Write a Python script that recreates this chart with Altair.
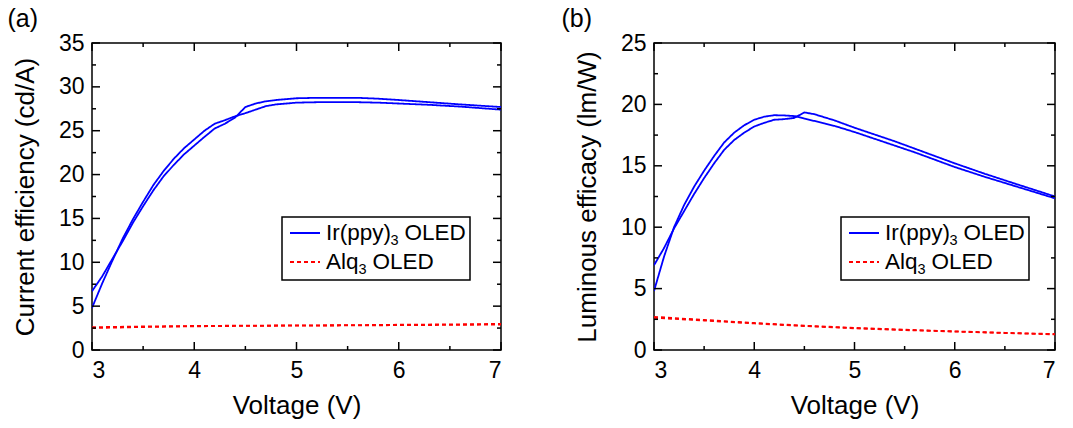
import altair as alt
import pandas as pd

FONT = "Liberation Sans"

# Voltage grid for the Ir(ppy)3 devices (V)
volt_ir = [3.0, 3.1, 3.2, 3.3, 3.4, 3.5, 3.6, 3.7, 3.8, 3.9, 4.0, 4.1, 4.2, 4.3,
           4.4, 4.5, 4.6, 4.7, 4.8, 5.0, 5.2, 5.4, 5.6, 5.8, 6.0, 6.3, 6.6, 7.0]

# Current efficiency (cd/A), two Ir(ppy)3 devices
ce_ir_1 = [6.7, 8.4, 10.4, 12.4, 14.5, 16.4, 18.2, 19.8, 21.1, 22.3, 23.3, 24.3, 25.25, 25.8,
           26.5, 27.7, 28.1, 28.35, 28.5, 28.7, 28.75, 28.75, 28.75, 28.65, 28.5, 28.25, 28.0, 27.7]
ce_ir_2 = [4.8, 7.6, 10.2, 12.7, 14.9, 16.9, 18.8, 20.4, 21.8, 23.0, 24.0, 25.0, 25.8, 26.2,
           26.65, 27.0, 27.4, 27.8, 28.0, 28.2, 28.25, 28.25, 28.25, 28.2, 28.1, 27.95, 27.75, 27.4]

# Luminous efficacy (lm/W), two Ir(ppy)3 devices
le_ir_1 = [6.9, 8.3, 9.9, 11.3, 12.7, 14.0, 15.2, 16.3, 17.1, 17.7, 18.2, 18.5, 18.75, 18.8,
           18.9, 19.35, 19.2, 18.95, 18.7, 18.1, 17.55, 17.0, 16.4, 15.8, 15.2, 14.35, 13.55, 12.5]
le_ir_2 = [4.8, 7.6, 10.0, 11.8, 13.3, 14.6, 15.8, 16.9, 17.7, 18.3, 18.75, 19.0, 19.12, 19.1,
           19.05, 18.85, 18.65, 18.45, 18.25, 17.75, 17.2, 16.65, 16.1, 15.5, 14.9, 14.1, 13.35, 12.35]

# Voltage grid for the Alq3 devices (V)
volt_alq = [3.0, 3.5, 4.0, 4.5, 5.0, 5.5, 6.0, 6.5, 7.0]
ce_alq_1 = [2.5, 2.62, 2.7, 2.75, 2.78, 2.8, 2.83, 2.86, 2.9]
ce_alq_2 = [2.6, 2.68, 2.74, 2.78, 2.8, 2.83, 2.88, 2.92, 2.98]
le_alq_1 = [2.7, 2.45, 2.2, 1.98, 1.8, 1.65, 1.52, 1.4, 1.3]
le_alq_2 = [2.62, 2.4, 2.16, 1.95, 1.77, 1.62, 1.5, 1.38, 1.27]

# Axis ticks
x_major = [3, 4, 5, 6, 7]
x_minor = [3.5, 4.5, 5.5, 6.5]
ce_major = [0, 5, 10, 15, 20, 25, 30, 35]
ce_minor = [2.5, 7.5, 12.5, 17.5, 22.5, 27.5, 32.5]
le_major = [0, 5, 10, 15, 20, 25]
le_minor = [2.5, 7.5, 12.5, 17.5, 22.5]

DEVICES = ["Ir(ppy)3 OLED", "Alq3 OLED"]
BLUE = "#0000ff"
RED = "#ff0000"


def curves(ir_1, ir_2, alq_1, alq_2):
    rows = []
    for run, ys in (("ir1", ir_1), ("ir2", ir_2)):
        rows += [{"V": v, "y": y, "device": DEVICES[0], "run": run} for v, y in zip(volt_ir, ys)]
    for run, ys in (("alq1", alq_1), ("alq2", alq_2)):
        rows += [{"V": v, "y": y, "device": DEVICES[1], "run": run} for v, y in zip(volt_alq, ys)]
    return pd.DataFrame(rows)


def panel(df, ymax, y_major, y_minor, y_title, label, W, H, legend_x, label_dx):
    xs = alt.Scale(domain=[3, 7], nice=False, zero=False)
    ys = alt.Scale(domain=[0, ymax], nice=False)
    x_axis = alt.Axis(values=x_major, format="d", title="Voltage (V)",
                      titlePadding=10, labelPadding=9)
    y_axis = alt.Axis(values=y_major, format="d", title=y_title,
                      titlePadding=20, labelPadding=8)

    lines = alt.Chart(df).mark_line(strokeWidth=1.8, clip=True).encode(
        x=alt.X("V:Q", scale=xs, axis=x_axis),
        y=alt.Y("y:Q", scale=ys, axis=y_axis),
        color=alt.Color("device:N", scale=alt.Scale(domain=DEVICES, range=[BLUE, RED]), legend=None),
        strokeDash=alt.StrokeDash("device:N", scale=alt.Scale(domain=DEVICES, range=[[1, 0], [4, 3]]),
                                  legend=None),
        detail="run:N",
    )

    # inward ticks on all four sides
    def xticks(vals, size):
        d = pd.DataFrame({"t": vals})
        base = alt.Chart(d).mark_rule(color="black", strokeWidth=1.5)
        xe = alt.X("t:Q", scale=xs, axis=x_axis)
        return [base.encode(x=xe, y=alt.value(H), y2=alt.value(H - size)),
                base.encode(x=xe, y=alt.value(0), y2=alt.value(size))]

    def yticks(vals, size):
        d = pd.DataFrame({"t": vals})
        base = alt.Chart(d).mark_rule(color="black", strokeWidth=1.5)
        ye = alt.Y("t:Q", scale=ys, axis=y_axis)
        return [base.encode(y=ye, x=alt.value(0), x2=alt.value(size)),
                base.encode(y=ye, x=alt.value(W - size), x2=alt.value(W))]

    ticks = xticks(x_major, 8) + xticks(x_minor, 4) + yticks(y_major, 8) + yticks(y_minor, 4)

    # legend box with sample lines and subscripted labels
    lx = legend_x
    one = pd.DataFrame({"k": [0]})
    box = alt.Chart(one).mark_rect(fill="white", stroke="black", strokeWidth=1.5).encode(
        x=alt.value(lx), x2=alt.value(lx + 188), y=alt.value(174), y2=alt.value(237))
    leg = [box]
    entries = [("Ir(ppy)", "3", "OLED", BLUE, [1, 0], 190, 64.5),
               ("Alq", "3", "OLED", RED, [4, 3], 219, 32.5)]
    for main, sub, rest, col, dash, yy, wmain in entries:
        leg.append(alt.Chart(one).mark_rule(color=col, strokeWidth=1.8, strokeDash=dash).encode(
            x=alt.value(lx + 8), x2=alt.value(lx + 38), y=alt.value(yy)))
        tx = lx + 44
        leg.append(alt.Chart(one).mark_text(text=main, font=FONT, fontSize=22.5, align="left",
                                            baseline="middle", color="black").encode(
            x=alt.value(tx), y=alt.value(yy)))
        leg.append(alt.Chart(one).mark_text(text=sub, font=FONT, fontSize=14.5, align="left",
                                            baseline="middle", color="black").encode(
            x=alt.value(tx + wmain), y=alt.value(yy + 8)))
        leg.append(alt.Chart(one).mark_text(text=rest, font=FONT, fontSize=22.5, align="left",
                                            baseline="middle", color="black").encode(
            x=alt.value(tx + wmain + 14), y=alt.value(yy)))

    return alt.layer(lines, *ticks, *leg).properties(
        width=W, height=H,
        title=alt.TitleParams(label, anchor="start", frame="bounds", fontSize=25, font=FONT,
                              fontWeight="normal", offset=0, dx=label_dx, color="black"),
    )


df_ce = curves(ce_ir_1, ce_ir_2, ce_alq_1, ce_alq_2)
df_le = curves(le_ir_1, le_ir_2, le_alq_1, le_alq_2)

pa = panel(df_ce, 35, ce_major, ce_minor, "Current efficiency (cd/A)", "(a)", 409, 307, 190, -5)
pb = panel(df_le, 25, le_major, le_minor, "Luminous efficacy (lm/W)", "(b)", 401, 307, 187, -13)

chart = alt.hconcat(pa, pb, spacing=57).properties(
    padding={"left": 6, "top": 6, "right": 5, "bottom": 5},
    background="white",
).configure_view(
    stroke="black", strokeWidth=1.5
).configure_axis(
    grid=False, ticks=False, domain=False,
    labelFont=FONT, labelFontSize=23, labelColor="black",
    titleFont=FONT, titleFontSize=26, titleFontWeight="normal", titleColor="black",
)

chart.save("out.html", embed_options={"renderer": "svg", "actions": False})
